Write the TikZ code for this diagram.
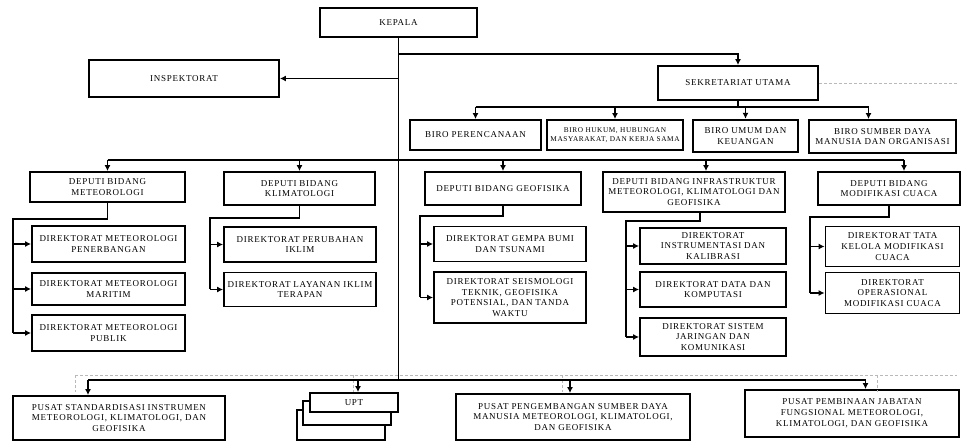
\documentclass[tikz,border=0pt]{standalone}
\usepackage{fontspec}
\setmainfont{Liberation Serif}[LetterSpace=8]
\usetikzlibrary{arrows.meta}
\begin{document}
\begin{tikzpicture}[x=1pt,y=-1pt,
  box/.style={draw, line width=1.8pt, align=center, inner sep=1pt, fill=white,
    font=\fontsize{9}{10.8}\selectfont},
  small/.style={font=\fontsize{7.3}{9}\selectfont},
  sz/.style 2 args={minimum width=#1pt, minimum height=#2pt},
  conn/.style={line width=1.3pt},
  arr/.style={conn, -{Latex[length=6pt,width=6pt]}},
  dsh/.style={dashed, dash pattern=on 3pt off 2pt, gray!55, line width=0.9pt}]
\useasboundingbox[fill=white] (0,0) rectangle (962,443);

% top level
\node[box, sz={157}{29}] (kepala) at (398.5,22.5) {KEPALA};
\node[box, sz={190}{37}] (insp) at (184,78.5) {INSPEKTORAT};
\node[box, sz={160}{34}] (sekr) at (738,83) {SEKRETARIAT UTAMA};

% bureaus
\node[box, sz={131}{30}] (bperenc) at (475.5,135) {BIRO PERENCANAAN};
\node[box, small, sz={136}{30}] (bhukum) at (615,135) {BIRO HUKUM, HUBUNGAN\\MASYARAKAT, DAN KERJA SAMA};
\node[box, line width=2.3pt, sz={105}{32}] (bumum) at (745.5,136) {BIRO UMUM DAN\\KEUANGAN};
\node[box, sz={147}{33}] (bsdm) at (882.5,136.5) {BIRO SUMBER DAYA\\MANUSIA DAN ORGANISASI};

% deputies
\node[box, sz={155}{30}] (dmet) at (107.5,187) {DEPUTI BIDANG\\METEOROLOGI};
\node[box, sz={151}{33}] (dklim) at (299.5,188.5) {DEPUTI BIDANG\\KLIMATOLOGI};
\node[box, sz={156}{33}] (dgeo) at (503,188.5) {DEPUTI BIDANG GEOFISIKA};
\node[box, sz={182}{40}] (dinfra) at (694,192) {DEPUTI BIDANG INFRASTRUKTUR\\METEOROLOGI, KLIMATOLOGI DAN\\GEOFISIKA};
\node[box, sz={142}{33}] (dmod) at (889,188.5) {DEPUTI BIDANG\\MODIFIKASI CUACA};

% directorates meteorologi
\node[box, sz={153}{36}] (dm1) at (108.5,244) {DIREKTORAT METEOROLOGI\\PENERBANGAN};
\node[box, sz={153}{32}] (dm2) at (108.5,289) {DIREKTORAT METEOROLOGI\\MARITIM};
\node[box, sz={153}{36}] (dm3) at (108.5,333) {DIREKTORAT METEOROLOGI\\PUBLIK};
% klimatologi
\node[box, sz={152}{35}] (dk1) at (300,244.5) {DIREKTORAT PERUBAHAN\\IKLIM};
\node[box, sz={152}{34}] (dk2) at (300,289.5) {DIREKTORAT LAYANAN IKLIM\\TERAPAN};
% geofisika
\node[box, sz={152}{35}] (dg1) at (510,244) {DIREKTORAT GEMPA BUMI\\DAN TSUNAMI};
\node[box, sz={152}{51}] (dg2) at (510,297.5) {DIREKTORAT SEISMOLOGI\\TEKNIK, GEOFISIKA\\POTENSIAL, DAN TANDA\\WAKTU};
% infrastruktur
\node[box, sz={146}{36}] (di1) at (713,246) {DIREKTORAT\\INSTRUMENTASI DAN\\KALIBRASI};
\node[box, sz={146}{35}] (di2) at (713,289.5) {DIREKTORAT DATA DAN\\KOMPUTASI};
\node[box, sz={146}{38}] (di3) at (713,337) {DIREKTORAT SISTEM\\JARINGAN DAN\\KOMUNIKASI};
% modifikasi cuaca
\node[box, sz={134}{40}] (dc1) at (892.5,246.5) {DIREKTORAT TATA\\KELOLA MODIFIKASI\\CUACA};
\node[box, sz={134}{41}] (dc2) at (892.5,293) {DIREKTORAT\\OPERASIONAL\\MODIFIKASI CUACA};

% bottom units
\node[box, sz={212}{44}] (pstd) at (119,418) {PUSAT STANDARDISASI INSTRUMEN\\METEOROLOGI, KLIMATOLOGI, DAN\\GEOFISIKA};
\node[box, sz={88}{30}] (upt3) at (341,425) {};
\node[box, sz={88}{24}] (upt2) at (347,413) {};
\node[box, sz={88}{19}] (upt) at (354,402.5) {UPT};
\node[box, sz={234}{46}] (ppeng) at (573,417) {PUSAT PENGEMBANGAN SUMBER DAYA\\MANUSIA METEOROLOGI, KLIMATOLOGI,\\DAN GEOFISIKA};
\node[box, sz={214}{47}] (ppemb) at (852,413.5) {PUSAT PEMBINAAN JABATAN\\FUNGSIONAL METEOROLOGI,\\KLIMATOLOGI, DAN GEOFISIKA};

% helper coordinates
\coordinate (sk) at (0,54);
\coordinate (bb) at (0,107);
\coordinate (db) at (0,160);
\coordinate (lb) at (0,380);
\coordinate (dl) at (0,375);
\coordinate (rend) at (957,82);
\coordinate (bsdmin) at ([xshift=-14pt]bsdm.north);
\coordinate (dinfrain) at ([xshift=12pt]dinfra.north);
\coordinate (dinfraout) at ([xshift=6pt]dinfra.south);
\coordinate (dmodin) at ([xshift=15pt]dmod.north);
\coordinate (pstdin) at ([xshift=-31pt]pstd.north);
\coordinate (uptin) at ([xshift=4pt]upt.north);
\coordinate (ppengin) at ([xshift=-3pt]ppeng.north);
\coordinate (ppembin) at ([xshift=13.5pt]ppemb.north);
\coordinate (m1) at (13,219);
\coordinate (k1) at (210,218);
\coordinate (g1) at (420,216);
\coordinate (i1) at (626,221);
\coordinate (c1) at (810,217);

% main spine
\draw[conn] (kepala.south) -- (kepala.south |- lb);
\draw[arr] (kepala.south |- insp.east) -- (insp.east);
\draw[arr] (kepala.south |- sk) -| (sekr.north);
\draw[dsh] (sekr.east) -- (sekr.east -| rend);

% bureaus
\draw[conn] (sekr.south) -- (sekr.south |- bb);
\draw[conn] (bperenc.north |- bb) -- (bsdmin |- bb);
\draw[arr] (bperenc.north |- bb) -- (bperenc.north);
\draw[arr] (bhukum.north |- bb) -- (bhukum.north);
\draw[arr] (bumum.north |- bb) -- (bumum.north);
\draw[arr] (bsdmin |- bb) -- (bsdmin);

% deputies
\draw[conn] (dmet.north |- db) -- (dmodin |- db);
\draw[arr] (dmet.north |- db) -- (dmet.north);
\draw[arr] (dklim.north |- db) -- (dklim.north);
\draw[arr] (dgeo.north |- db) -- (dgeo.north);
\draw[arr] (dinfrain |- db) -- (dinfrain);
\draw[arr] (dmodin |- db) -- (dmodin);

% meteorologi
\draw[conn] (dmet.south) -- (dmet.south |- m1) -- (m1) -- (m1 |- dm3.west);
\draw[arr] (m1 |- dm1.west) -- (dm1.west);
\draw[arr] (m1 |- dm2.west) -- (dm2.west);
\draw[arr] (m1 |- dm3.west) -- (dm3.west);
% klimatologi
\draw[conn] (dklim.south) -- (dklim.south |- k1) -- (k1) -- (k1 |- dk2.west);
\draw[arr] (k1 |- dk1.west) -- (dk1.west);
\draw[arr] (k1 |- dk2.west) -- (dk2.west);
% geofisika
\draw[conn] (dgeo.south) -- (dgeo.south |- g1) -- (g1) -- (g1 |- dg2.west);
\draw[arr] (g1 |- dg1.west) -- (dg1.west);
\draw[arr] (g1 |- dg2.west) -- (dg2.west);
% infrastruktur
\draw[conn] (dinfraout) -- (dinfraout |- i1) -- (i1) -- (i1 |- di3.west);
\draw[arr] (i1 |- di1.west) -- (di1.west);
\draw[arr] (i1 |- di2.west) -- (di2.west);
\draw[arr] (i1 |- di3.west) -- (di3.west);
% modifikasi cuaca
\draw[conn] (dmod.south) -- (dmod.south |- c1) -- (c1) -- (c1 |- dc2.west);
\draw[arr] (c1 |- dc1.west) -- (dc1.west);
\draw[arr] (c1 |- dc2.west) -- (dc2.west);

% bottom dashed line
\coordinate (d0) at (75,375);
\coordinate (d1) at (353,375);
\coordinate (d2) at (562,375);
\coordinate (d3) at (877,375);
\coordinate (d0b) at (75,392);
\coordinate (d1b) at (353,392);
\coordinate (d2b) at (562,392);
\coordinate (d3b) at (877,392);
\draw[dsh] (d0) -- (rend |- dl);
\draw[dsh] (d0) -- (d0b);
\draw[dsh] (d1) -- (d1b);
\draw[dsh] (d2) -- (d2b);
\draw[dsh] (d3) -- (d3b);

% bottom solid line
\draw[conn] (pstdin |- lb) -- (ppembin |- lb);
\draw[arr] (pstdin |- lb) -- (pstdin);
\draw[arr] (uptin |- lb) -- (uptin);
\draw[arr] (ppengin |- lb) -- (ppengin);
\draw[arr] (ppembin |- lb) -- (ppembin);
\end{tikzpicture}
\end{document}
